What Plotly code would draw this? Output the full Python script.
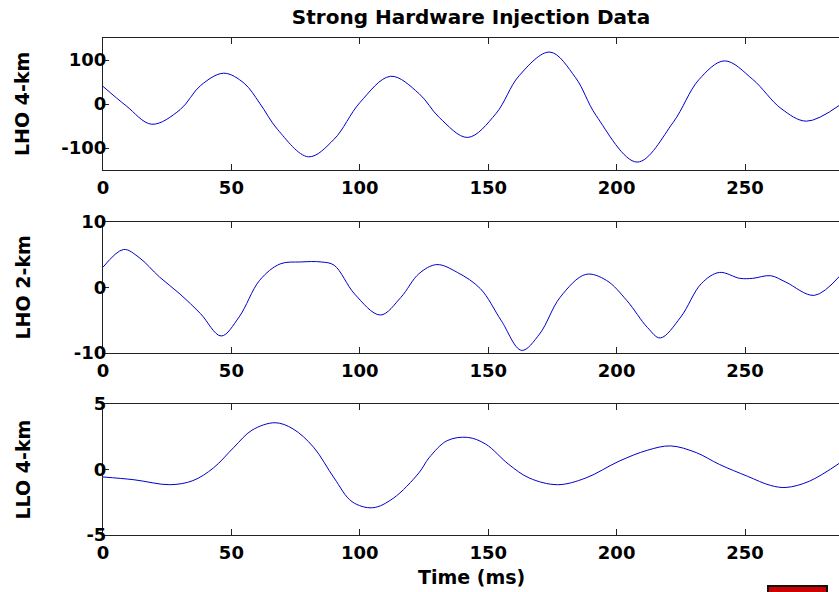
import plotly.graph_objects as go

# ---- data ----
x_ticks = [0, 50, 100, 150, 200, 250]

t_lho4 = [0, 9, 19, 30, 38, 47, 55, 61, 68, 80, 90, 100, 112, 123, 131, 142, 153, 162,
          174, 184, 192, 208, 222, 232, 242, 253, 264, 274, 287]
v_lho4 = [40, -4, -46, -13, 42, 70, 47, 2, -58, -120, -80, 3, 63, 24, -31, -76, -22, 64,
          118, 60, -26, -132, -42, 55, 98, 56, -10, -39, -2]

t_lho2 = [0, 8, 14, 22, 30, 38, 46, 53, 61, 69, 77, 85, 90, 98, 108, 116, 123, 130, 138,
          147, 155, 163, 170, 178, 188, 196, 204, 212, 217, 225, 233, 240, 248, 253, 260,
          266, 277, 287]
v_lho2 = [3.1, 5.8, 4.6, 1.6, -1.0, -4.0, -7.4, -4.5, 1.1, 3.6, 3.9, 3.9, 3.4, -1.0, -4.2,
          -1.5, 2.1, 3.5, 2.3, -0.2, -5.0, -9.6, -7.1, -1.5, 2.0, 1.1, -2.0, -6.1, -7.7,
          -4.5, 0.6, 2.3, 1.4, 1.4, 1.8, 0.8, -1.2, 1.8]

t_llo4 = [0, 12, 26, 35, 43, 51, 58, 67, 74, 82, 90, 97, 105, 113, 123, 127, 134, 142, 149,
          158, 166, 177, 188, 201, 212, 221, 231, 240, 251, 260, 266, 275, 287]
v_llo4 = [-0.57, -0.78, -1.16, -0.85, 0.12, 1.7, 3.0, 3.57, 3.1, 1.7, -0.65, -2.46, -2.92,
          -2.2, -0.26, 0.9, 2.2, 2.45, 1.94, 0.39, -0.65, -1.16, -0.65, 0.64, 1.47, 1.8,
          1.29, 0.39, -0.52, -1.22, -1.37, -0.9, 0.51]

y_labels = ["LHO 4-km", "LHO 2-km", "LLO 4-km"]
y_ticks = [[-100, 0, 100], [-10, 0, 10], [-5, 0, 5]]
y_ticktext = [["-100", "0", "100"], ["-10", "0", "10"], ["-5", "0", "5"]]
y_ranges = [[-150, 150], [-10, 10], [-5, 5]]
title_text = "Strong Hardware Injection Data"
x_title = "Time (ms)"

# ---- figure ----
W, H = 839, 592
ML, MR, MT, MB = 103, 0, 38, 57
PH = H - MT - MB
PW = W - ML - MR

def py(frac_from_top_px):
    return 1 - frac_from_top_px / PH

domains = [[py(132), 1.0], [py(315), py(184)], [0.0, py(366)]]

FAM = "DejaVu Sans"
TICK_FONT = dict(family=FAM, size=18, color="black", weight="bold")
LABEL_FONT = dict(family=FAM, size=19, color="black", weight="bold")
TITLE_FONT = dict(family=FAM, size=20, color="black", weight="bold")
LINE_COL = "#0000cc"
AX_COL = "#222222"

fig = go.Figure()
series = [(t_lho4, v_lho4), (t_lho2, v_lho2), (t_llo4, v_llo4)]
for i, (t, v) in enumerate(series):
    n = "" if i == 0 else str(i + 1)
    fig.add_trace(go.Scatter(x=t, y=v, mode="lines", line=dict(color=LINE_COL, width=1, shape="spline"),
                             xaxis="x" + n, yaxis="y" + n, showlegend=False, hoverinfo="skip"))
    fig.layout["xaxis" + n] = dict(
        domain=[0, 1], anchor="y" + n, range=[0, 286.6], tickvals=x_ticks,
        showgrid=False, zeroline=False, showline=True, linecolor=AX_COL, linewidth=1,
        mirror="ticks", ticks="inside", ticklen=6, tickcolor=AX_COL,
        tickfont=TICK_FONT, ticklabelstandoff=1)
    fig.layout["yaxis" + n] = dict(
        domain=domains[i], anchor="x" + n, range=y_ranges[i], tickvals=y_ticks[i],
        ticktext=y_ticktext[i],
        showgrid=False, zeroline=False, showline=True, linecolor=AX_COL, linewidth=1,
        mirror=False, ticks="inside", ticklen=6, tickcolor=AX_COL,
        tickfont=TICK_FONT, ticklabelstandoff=-8)
    fig.add_annotation(text=y_labels[i], xref="paper", yref="paper",
                       x=(22 - ML) / PW, y=(domains[i][0] + domains[i][1]) / 2,
                       textangle=-90, showarrow=False, font=LABEL_FONT,
                       xanchor="center", yanchor="middle")

fig.add_annotation(text=x_title, xref="paper", yref="paper", x=0.5, y=(535 - 577) / PH,
                   showarrow=False, font=LABEL_FONT, xanchor="center", yanchor="middle")

fig.add_shape(type="rect", xref="paper", yref="paper",
              x0=(768 - ML) / PW, x1=(827 - ML) / PW,
              y0=(535 - 600) / PH, y1=(535 - 586) / PH,
              fillcolor="#cc0000", line=dict(color="#111111", width=2), layer="above")

fig.update_layout(
    width=W, height=H, margin=dict(l=ML, r=MR, t=MT, b=MB),
    paper_bgcolor="white", plot_bgcolor="white",
    title=dict(text=title_text, x=0.5, xref="paper", y=1 - 17 / H, yref="container",
               xanchor="center", yanchor="middle", font=TITLE_FONT),
)

fig.write_html("out.html", config={"displayModeBar": False},
               post_script="document.body.style.margin='0px';document.body.style.overflow='hidden';")
